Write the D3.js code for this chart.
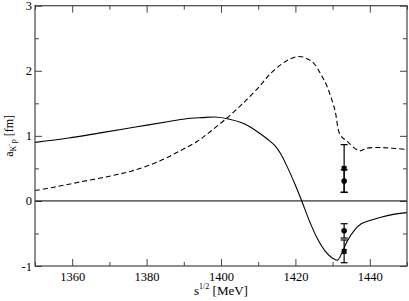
<!DOCTYPE html>
<html>
<head>
<meta charset="utf-8">
<script src="https://cdn.jsdelivr.net/npm/d3@7"></script>
<style>
body{margin:0;background:#fff}
svg{display:block}
svg text{font-family:"Liberation Serif","Times New Roman",Times,"DejaVu Serif",serif !important;fill:#000}
</style>
</head>
<body>
<script>
//solid curve (s^1/2 in MeV, a in fm)
const solidE = [1350,1359,1368,1377,1386,1390.3,1394.8,1398.4,1402,1405.6,1409.1,1412.7,1414.5,1416,1418,1420,1421.7,1424,1426,1428,1430,1431.3,1432.5,1434,1436,1437.7,1440,1443,1446,1450]
const solidA = [0.90,0.966,1.05,1.135,1.22,1.26,1.28,1.29,1.26,1.20,1.09,0.94,0.85,0.73,0.50,0.24,0.0,-0.34,-0.59,-0.77,-0.88,-0.91,-0.80,-0.61,-0.44,-0.35,-0.30,-0.25,-0.21,-0.18]
//dashed curve
const dashE = [1350,1355,1362,1370,1376,1383,1389,1394,1397,1401.5,1405,1407,1410.5,1413,1416,1418.5,1421,1423,1425,1427,1428.5,1430.6,1432,1434,1437.2,1439.2,1442.7,1446,1450]
const dashA = [0.16,0.21,0.29,0.38,0.46,0.60,0.77,0.93,1.06,1.27,1.45,1.56,1.77,1.94,2.09,2.18,2.22,2.19,2.11,1.93,1.76,1.40,1.02,0.91,0.77,0.81,0.82,0.81,0.79]
//data points with error bars
const ptE = 1433.1
const squareA = [0.50,-0.775]
const squareErr = [0.365,0.175]
const circleA = [0.305,-0.46]
const circleErr = [0.175,0.11]
//ticks
const xMajor = [1360,1380,1400,1420,1440]
const xMinor = [1350,1370,1390,1410,1430,1450]
const yMajor = [-1,0,1,2,3]
const yMinor = [-0.5,0.5,1.5,2.5]

const size = {width:409,height:301,margin:{left:35,right:2,top:5.7,bottom:35}}
const svg = d3.select('body').append('svg')
    .attr('width',size.width).attr('height',size.height)

const xScale = d3.scaleLinear().domain([1350,1450])
    .range([size.margin.left,size.width-size.margin.right])
const yScale = d3.scaleLinear().domain([-1,3])
    .range([size.height-size.margin.bottom,size.margin.top])
const x0 = xScale.range()[0], x1 = xScale.range()[1]
const yb = yScale.range()[0], yt = yScale.range()[1]

//axes: major + minor ticks, pointing inward, on all four sides
const axes = [
    [d3.axisBottom(xScale).tickValues(xMajor).tickSize(-7).tickPadding(6).tickFormat(d=>d),`translate(0,${yb})`],
    [d3.axisBottom(xScale).tickValues(xMinor).tickSize(-4).tickFormat(''),`translate(0,${yb})`],
    [d3.axisTop(xScale).tickValues(xMajor).tickSize(-7).tickFormat(''),`translate(0,${yt})`],
    [d3.axisTop(xScale).tickValues(xMinor).tickSize(-4).tickFormat(''),`translate(0,${yt})`],
    [d3.axisLeft(yScale).tickValues(yMajor).tickSize(-7).tickPadding(3).tickFormat(d=>d),`translate(${x0},0)`],
    [d3.axisLeft(yScale).tickValues(yMinor).tickSize(-4).tickFormat(''),`translate(${x0},0)`],
    [d3.axisRight(yScale).tickValues(yMajor).tickSize(-7).tickFormat(''),`translate(${x1},0)`],
    [d3.axisRight(yScale).tickValues(yMinor).tickSize(-4).tickFormat(''),`translate(${x1},0)`]
]
axes.forEach(([ax,tr])=>{
    const g = svg.append('g').attr('transform',tr).call(ax)
    g.attr('font-family',null)
    g.select('.domain').remove()
    g.selectAll('line').attr('stroke','#444')
    g.selectAll('text').attr('font-size',12.5).attr('fill','#000')
})

//zero line
svg.append('line')
   .attr('x1',x0).attr('x2',x1)
   .attr('y1',yScale(0)).attr('y2',yScale(0))
   .attr('stroke','#000').attr('stroke-width',1)

//curves
const line = d3.line().x(d=>xScale(d[0])).y(d=>yScale(d[1])).curve(d3.curveCatmullRom.alpha(0.5))
svg.append('path')
   .attr('d',line(solidE.map((e,i)=>[e,solidA[i]])))
   .attr('fill','none').attr('stroke','#000').attr('stroke-width',1.1)
svg.append('path')
   .attr('d',line(dashE.map((e,i)=>[e,dashA[i]])))
   .attr('fill','none').attr('stroke','#000').attr('stroke-width',1.1)
   .attr('stroke-dasharray','5,3')

//error bars
const bars = squareA.map((a,i)=>[a,squareErr[i]]).concat(circleA.map((a,i)=>[a,circleErr[i]]))
const px = xScale(ptE)
bars.forEach(([a,e])=>{
    const g = svg.append('g').attr('stroke','#000').attr('stroke-width',1.2)
    g.append('line').attr('x1',px).attr('x2',px).attr('y1',yScale(a+e)).attr('y2',yScale(a-e))
    g.append('line').attr('x1',px-3.5).attr('x2',px+3.5).attr('y1',yScale(a+e)).attr('y2',yScale(a+e))
    g.append('line').attr('x1',px-3.5).attr('x2',px+3.5).attr('y1',yScale(a-e)).attr('y2',yScale(a-e))
})
svg.append('g').selectAll('rect').data(squareA).enter().append('rect')
   .attr('x',px-2.5).attr('y',d=>yScale(d)-2.5).attr('width',5).attr('height',5).attr('fill','#000')
svg.append('g').selectAll('circle').data(circleA).enter().append('circle')
   .attr('cx',px).attr('cy',d=>yScale(d)).attr('r',2.8).attr('fill','#000')

//frame
svg.append('rect')
   .attr('x',x0).attr('y',yt).attr('width',x1-x0).attr('height',yb-yt)
   .attr('fill','none').attr('stroke','#444').attr('stroke-width',1.2)

//axis titles
const xt = svg.append('text').attr('x',(x0+x1)/2).attr('y',295).attr('text-anchor','middle').attr('font-size',13)
xt.append('tspan').text('s')
xt.append('tspan').attr('dy',-6).attr('font-size',8).text('1/2')
xt.append('tspan').attr('dy',6).text(' [MeV]')

const yt2 = svg.append('text').attr('transform',`translate(13,${(yt+yb)/2}) rotate(-90)`)
   .attr('text-anchor','middle').attr('font-size',12)
yt2.append('tspan').text('a')
yt2.append('tspan').attr('dy',3).attr('font-size',8).text('K')
yt2.append('tspan').attr('dy',-5).attr('font-size',7).text('-')
yt2.append('tspan').attr('dy',5).attr('font-size',8).text('p')
yt2.append('tspan').attr('dy',-3).text(' [fm]')
</script>
</body>
</html>
